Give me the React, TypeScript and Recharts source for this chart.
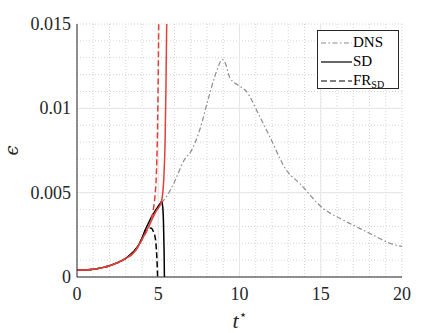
import React from 'react';
import {
  LineChart,
  Line,
  XAxis,
  YAxis,
  CartesianGrid,
  Legend,
} from 'recharts';

// ---------- data ----------
const dnsT = [5.2, 5.5, 6.0, 6.6, 7.0, 7.55, 8.06, 8.58, 8.95, 9.13, 9.4, 10.0, 10.4, 11.2, 11.86, 12.88, 13.7, 15.14, 16.17, 17.19, 18.22, 19.24, 20];
const dnsE = [0.0044, 0.00476, 0.00565, 0.00694, 0.00743, 0.00871, 0.0105, 0.01217, 0.0129, 0.01267, 0.01183, 0.01132, 0.01103, 0.0096, 0.00832, 0.00634, 0.00555, 0.00407, 0.00348, 0.00298, 0.00249, 0.002, 0.00181];

const sdT = [0, 0.5, 1, 1.5, 2, 2.5, 3, 3.5, 3.8, 4.0, 4.2, 4.4, 4.6, 4.8, 5.0, 5.15, 5.2, 5.27, 5.32, 5.36, 5.38];
const sdE = [0.0004, 0.00042, 0.00046, 0.00054, 0.00067, 0.00085, 0.0011, 0.00152, 0.0019, 0.0023, 0.0028, 0.0032, 0.0036, 0.0039, 0.0042, 0.0044, 0.00447, 0.0042, 0.0033, 0.0015, 0.0];

const frT = [0, 0.5, 1, 1.5, 2, 2.5, 3, 3.5, 3.8, 4.0, 4.2, 4.4, 4.55, 4.7, 4.8, 4.88, 4.93, 4.96];
const frE = [0.0004, 0.00042, 0.00046, 0.00054, 0.00067, 0.00085, 0.0011, 0.00152, 0.0019, 0.0023, 0.0027, 0.00285, 0.0029, 0.0027, 0.0024, 0.0017, 0.0008, 0.0];

const redT = [0, 0.5, 1, 1.5, 2, 2.5, 3, 3.5, 4.0, 4.47, 4.88, 5.18, 5.29, 5.35, 5.42, 5.47, 5.52];
const redE = [0.0004, 0.00042, 0.00046, 0.00054, 0.00067, 0.00085, 0.0011, 0.00145, 0.00222, 0.00312, 0.00392, 0.00442, 0.00512, 0.006, 0.008, 0.011, 0.015];

const redDashT = [0, 0.5, 1, 1.5, 2, 2.5, 3, 3.5, 4.0, 4.47, 4.6, 4.7, 4.8, 4.88, 4.95, 5.0, 5.03];
const redDashE = [0.0004, 0.00042, 0.00046, 0.00054, 0.00067, 0.00085, 0.0011, 0.00145, 0.00222, 0.00312, 0.0035, 0.004, 0.0048, 0.006, 0.0085, 0.012, 0.015];

const xTicks = [0, 5, 10, 15, 20];
const yTicks = [0, 0.005, 0.01, 0.015];
const xMinor = [0, 1, 2, 3, 4, 5, 6, 7, 8, 9, 10, 11, 12, 13, 14, 15, 16, 17, 18, 19, 20];
const yMinor = [0, 0.001, 0.002, 0.003, 0.004, 0.005, 0.006, 0.007, 0.008, 0.009, 0.01, 0.011, 0.012, 0.013, 0.014, 0.015];
const xMajorGrid = [5, 10, 15];
const yMajorGrid = [0.005, 0.01];
const legendOrder = ['DNS', 'SD', 'FR_SD'];

const build = (ts: number[], es: number[]) => ts.map((t, i) => ({ t, e: es[i] }));
const dnsData = build(dnsT, dnsE);
const sdData = build(sdT, sdE);
const frData = build(frT, frE);
const redData = build(redT, redE);
const redDashData = build(redDashT, redDashE);

// ---------- styles ----------
const AX = '#262626';
const FONT = 'Liberation Serif';
const RED = '#e2403a';
const GRAY = '#8c8c8c';

const legendStyle: Record<string, { color: string; dash?: string }> = {
  DNS: { color: GRAY, dash: '5 2.5 1.5 2.5' },
  SD: { color: '#000' },
  FR_SD: { color: '#000', dash: '6 3' },
};

const renderLegend = (props: any) => {
  const items = (props.payload || [])
    .filter((p: any) => p.type !== 'none' && legendStyle[p.value])
    .sort((a: any, b: any) => legendOrder.indexOf(a.value) - legendOrder.indexOf(b.value));
  return (
    <div
      style={{
        border: `1px solid ${AX}`,
        background: '#fff',
        width: 82,
        height: 59,
        boxSizing: 'border-box',
        paddingTop: 2,
        fontFamily: FONT,
        fontSize: 15,
        color: '#000',
      }}
    >
      {items.map((p: any) => {
        const st = legendStyle[p.value];
        return (
          <div key={p.value} style={{ display: 'flex', alignItems: 'center', height: 19 }}>
            <svg width={35} height={10} style={{ display: 'block' }}>
              <line x1={3} x2={34} y1={5} y2={5} stroke={st.color} strokeWidth={1.2} strokeDasharray={st.dash} />
            </svg>
            <span style={{ lineHeight: '15px' }}>
              {p.value === 'FR_SD' ? (
                <>
                  FR<span style={{ fontSize: 10, position: 'relative', top: 3 }}>SD</span>
                </>
              ) : (
                p.value
              )}
            </span>
          </div>
        );
      })}
    </div>
  );
};

const XTick = (props: any) => {
  const { x, y, payload } = props;
  return (
    <text x={x} y={y} dy="0.71em" textAnchor="middle" fill={AX} fontFamily={FONT} fontSize={18}>
      {payload.value}
    </text>
  );
};

const YTick = (props: any) => {
  const { x, y, payload } = props;
  return (
    <text x={x} y={y} dy="0.34em" textAnchor="end" fill={AX} fontFamily={FONT} fontSize={18}>
      {payload.value}
    </text>
  );
};

const XLabel = (props: any) => {
  const vb = props.viewBox || {};
  const cx = vb.x + vb.width / 2;
  return (
    <text x={cx} y={328} textAnchor="middle" fill={AX} fontFamily={FONT} fontSize={22}>
      <tspan fontStyle="italic">t</tspan>
      <tspan fontSize={13} dy={-9}>⋆</tspan>
    </text>
  );
};

const YLabel = (props: any) => {
  const vb = props.viewBox || {};
  const cy = vb.y + vb.height / 2;
  return (
    <text
      x={18}
      y={cy}
      textAnchor="middle"
      fill={AX}
      fontFamily="DejaVu Serif"
      fontSize={18}
      fontStyle="italic"
      transform={`rotate(-90, 18, ${cy})`}
    >
      ϵ
    </text>
  );
};

export default function App() {
  return (
    <div style={{ position: 'absolute', left: 0, top: 0, background: '#fff' }}>
      <LineChart width={443} height={333} margin={{ top: 24, right: 41, bottom: 0, left: 0 }}>
        <CartesianGrid
          verticalValues={xMinor}
          horizontalValues={yMinor}
          stroke="#d4d4d4"
          strokeDasharray="1 2"
          strokeWidth={1}
        />
        <CartesianGrid
          verticalValues={xMajorGrid}
          horizontalValues={yMajorGrid}
          stroke="#e6e6e6"
          strokeWidth={1}
        />
        <XAxis
          xAxisId={0}
          type="number"
          dataKey="t"
          domain={[0, 20]}
          allowDataOverflow
          ticks={xTicks}
          interval={0}
          height={56}
          tickLine={false}
          tickSize={6}
          tickMargin={4}
          axisLine={{ stroke: AX }}
          tick={<XTick />}
          label={<XLabel />}
        />
        <XAxis
          xAxisId="bm"
          type="number"
          dataKey="t"
          orientation="bottom"
          mirror
          domain={[0, 20]}
          allowDataOverflow
          ticks={xMinor}
          interval={0}
          tick={false}
          tickSize={4}
          tickLine={{ stroke: AX }}
          axisLine={false}
          height={0}
        />
        <XAxis
          xAxisId="top"
          type="number"
          dataKey="t"
          orientation="top"
          mirror
          domain={[0, 20]}
          allowDataOverflow
          ticks={xMinor}
          interval={0}
          tick={false}
          tickSize={4}
          tickLine={{ stroke: AX }}
          axisLine={{ stroke: AX }}
          height={0}
        />
        <YAxis
          yAxisId={0}
          type="number"
          domain={[0, 0.015]}
          allowDataOverflow
          ticks={yTicks}
          interval={0}
          width={77}
          tickLine={false}
          tickSize={2}
          tickMargin={4}
          axisLine={{ stroke: AX }}
          tick={<YTick />}
          label={<YLabel />}
        />
        <YAxis
          yAxisId="lm"
          type="number"
          orientation="left"
          mirror
          domain={[0, 0.015]}
          allowDataOverflow
          ticks={yMinor}
          interval={0}
          tick={false}
          tickSize={4}
          tickLine={{ stroke: AX }}
          axisLine={false}
          width={0}
        />
        <YAxis
          yAxisId="r"
          type="number"
          orientation="right"
          mirror
          domain={[0, 0.015]}
          allowDataOverflow
          ticks={yMinor}
          interval={0}
          tick={false}
          tickSize={4}
          tickLine={{ stroke: AX }}
          axisLine={{ stroke: AX }}
          width={0}
        />
        <Legend
          layout="vertical"
          align="center"
          verticalAlign="middle"
          content={renderLegend}
          wrapperStyle={{ left: 317, top: 30, width: 82, height: 59 }}
        />
        <Line
          data={dnsData}
          dataKey="e"
          name="DNS"
          type="monotone"
          stroke={GRAY}
          strokeWidth={1.2}
          strokeDasharray="5 2.5 1.5 2.5"
          dot={false}
          isAnimationActive={false}
        />
        <Line
          data={sdData}
          dataKey="e"
          name="SD"
          type="monotone"
          stroke="#000"
          strokeWidth={1.5}
          dot={false}
          isAnimationActive={false}
        />
        <Line
          data={frData}
          dataKey="e"
          name="FR_SD"
          type="monotone"
          stroke="#000"
          strokeWidth={1.5}
          strokeDasharray="6 3"
          dot={false}
          isAnimationActive={false}
        />
        <Line
          data={redData}
          dataKey="e"
          name="red"
          legendType="none"
          type="monotone"
          stroke={RED}
          strokeWidth={1.5}
          dot={false}
          isAnimationActive={false}
        />
        <Line
          data={redDashData}
          dataKey="e"
          name="redDash"
          legendType="none"
          type="monotone"
          stroke={RED}
          strokeWidth={1.5}
          strokeDasharray="6 3"
          dot={false}
          isAnimationActive={false}
        />
      </LineChart>
    </div>
  );
}
